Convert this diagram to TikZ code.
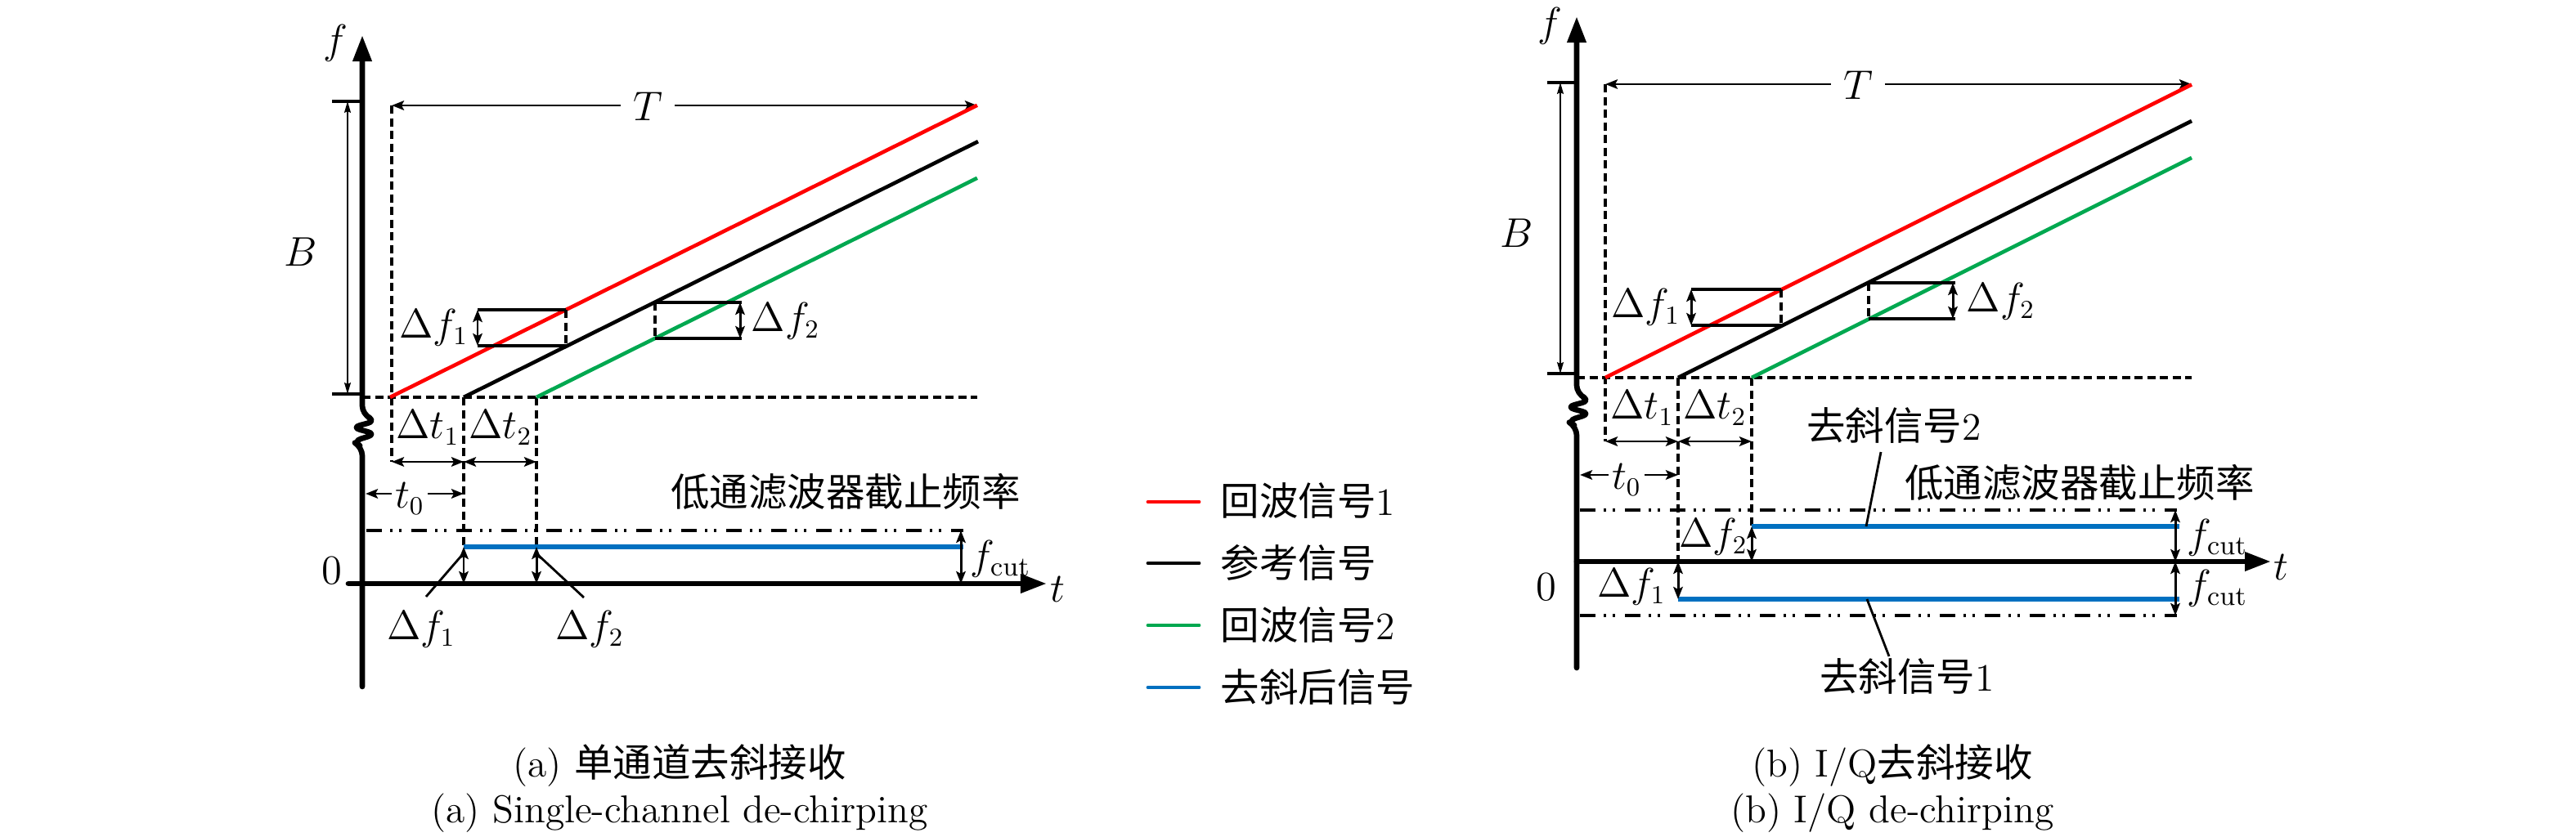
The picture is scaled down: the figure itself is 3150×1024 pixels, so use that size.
\documentclass[tikz,border=0pt]{standalone}
\usepackage{fontspec}
\newfontfamily\cjk{Noto Sans CJK SC}
\usetikzlibrary{arrows.meta}
\definecolor{sigred}{RGB}{255,0,0}
\definecolor{siggreen}{RGB}{0,168,80}
\definecolor{sigblue}{RGB}{0,112,192}
\tikzset{
  axisline/.style={line width=1.9pt, line cap=round, line join=round},
  axisarrow/.style={-{Triangle[length=0.32cm,width=0.22cm]}},
  sig/.style={line width=1.3pt},
  bluesig/.style={line width=1.45pt, sigblue},
  dashedline/.style={line width=0.9pt, dash pattern=on 0.1cm off 0.055cm},
  dashdot/.style={line width=0.95pt, dash pattern=on 0.19cm off 0.1cm on 0.03cm off 0.08cm on 0.03cm off 0.12cm},
  dimarrow/.style={line width=0.85pt, {Stealth[length=0.15cm,width=0.115cm,inset=0.03cm]}-{Stealth[length=0.15cm,width=0.115cm,inset=0.03cm]}},
  thinarrow/.style={line width=0.5pt, {Stealth[length=0.14cm,width=0.08cm,inset=0.02cm]}-{Stealth[length=0.14cm,width=0.08cm,inset=0.02cm]}},
  boxline/.style={line width=0.9pt},
  leader/.style={line width=0.8pt},
  lbl/.style={inner sep=0pt, font=\fontsize{13.5}{16}\selectfont},
  gaplbl/.style={lbl, fill=white, inner ysep=0pt},
  legline/.style={line width=1.4pt, line cap=round},
}
\begin{document}
\begin{tikzpicture}[x=0.01cm,y=-0.01cm]
\useasboundingbox (0,0) rectangle (3150,1024);

%% ================= (a) single channel =================
% axes
\draw[axisline, axisarrow, rounded corners=3pt] (443,840) -- (443,547) -- (431,540) -- (460,531) -- (430,523) -- (460,515) -- (443,507) -- (443,43);
\draw[axisline, axisarrow] (426,714) -- (1280,714);
\node[lbl] (fA) at (410,53) {$f$};
\node[lbl] (tA) at (1293,721) {$t$};
\node[lbl] (zeroA) at (406,698) {$0$};
% bandwidth B
\coordinate (BtopA) at (425,124); \coordinate (BbotA) at (425,482);
\draw[boxline] (406,124) -- (443,124);
\draw[boxline] (406,482) -- (443,482);
\draw[thinarrow] (BtopA) -- (BbotA);
\node[lbl] (BA) at (368,308) {$B$};
% dashed guides
\draw[dashedline] (443,486) -- (1195,486);
\draw[dashedline] (479,129) -- (479,565);
\draw[dashedline] (567,486) -- (567,669);
\draw[dashedline] (656,486) -- (656,669);
% T
\coordinate (TlA) at (479,129); \coordinate (TrA) at (1195,129);
\draw[dimarrow] (TlA) -- (TrA);
\node[gaplbl, inner xsep=0.15cm] (TA) at (792,130) {$T$};
% chirps
\coordinate (r0A) at (477,486); \coordinate (r1A) at (1195,128.8);
\coordinate (k0A) at (567,486); \coordinate (k1A) at (1196,173.1);
\coordinate (g0A) at (656,486); \coordinate (g1A) at (1195,217.8);
\draw[sig, sigred] (r0A) -- (r1A);
\draw[sig, black] (k0A) -- (k1A);
\draw[sig, siggreen] (g0A) -- (g1A);
% delta f1 box
\draw[boxline] (584,379) -- (692,379);
\draw[boxline] (584,423) -- (692,423);
\draw[dashedline] (692,379) -- (692,423);
\draw[dimarrow] (584,379) -- (584,423);
\node[lbl, anchor=east] (df1boxA) at (573,401) {$\Delta f_1$};
% delta f2 box
\draw[boxline] (801,370) -- (907,370);
\draw[boxline] (801,414) -- (907,414);
\draw[dashedline] (801,370) -- (801,414);
\draw[dimarrow] (905,370) -- (905,414);
\node[lbl, anchor=west] (df2boxA) at (918,393) {$\Delta f_2$};
% delta t, t0
\node[lbl] (dt1A) at (523,523) {$\Delta t_1$};
\node[lbl] (dt2A) at (612,523) {$\Delta t_2$};
\draw[dimarrow] (479,565) -- (567,565);
\draw[dimarrow] (567,565) -- (656,565);
\draw[dimarrow] (447,604) -- (567,604);
\node[gaplbl, inner xsep=0.04cm] (t0A) at (501,610) {$t_0$};
% cutoff and dechirped signal
\draw[dashdot] (448,649) -- (1178,649);
\draw[bluesig] (567,669) -- (1178,669);
\draw[dimarrow] (1175,649) -- (1175,714);
\node[lbl, anchor=west] (fcutA) at (1186,684) {$f_{\mathrm{cut}}$};
\draw[dimarrow] (567,669) -- (567,714);
\draw[dimarrow] (656,669) -- (656,714);
\node[lbl] (df1A) at (515,770) {$\Delta f_1$};
\node[lbl] (df2A) at (721,770) {$\Delta f_2$};
\coordinate (l1aA) at (521,730); \coordinate (l1bA) at (565,679);
\coordinate (l2aA) at (714,731); \coordinate (l2bA) at (658,679);
\draw[leader] (l1aA) -- (l1bA);
\draw[leader] (l2aA) -- (l2bA);
\node[lbl] (lpfA) at (1034,601) {\cjk 低通滤波器截止频率};

%% ================= legend =================
\draw[legline, sigred] (1404,614) -- (1466,614);
\draw[legline, black] (1404,689) -- (1466,689);
\draw[legline, siggreen] (1404,765) -- (1466,765);
\draw[legline, sigblue] (1404,841) -- (1466,841);
\node[lbl, anchor=west] (leg1) at (1492,613) {{\cjk 回波信号}1};
\node[lbl, anchor=west] (leg2) at (1492,688) {\cjk 参考信号};
\node[lbl, anchor=west] (leg3) at (1492,764) {{\cjk 回波信号}2};
\node[lbl, anchor=west] (leg4) at (1492,840) {\cjk 去斜后信号};

%% ================= (b) I/Q =================
\draw[axisline, axisarrow, rounded corners=3pt] (1928,817) -- (1928,522) -- (1916,515) -- (1945,506) -- (1915,498) -- (1945,490) -- (1928,482) -- (1928,20);
\draw[axisline, axisarrow] (1928,687) -- (2777,687);
\node[lbl] (fB) at (1895,32) {$f$};
\node[lbl] (tB) at (2789,694) {$t$};
\node[lbl] (zeroB) at (1891,718) {$0$};
% B
\coordinate (BtopB) at (1908,101); \coordinate (BbotB) at (1908,457);
\draw[boxline] (1892,101) -- (1928,101);
\draw[boxline] (1892,457) -- (1928,457);
\draw[thinarrow] (BtopB) -- (BbotB);
\node[lbl] (BB) at (1855,285) {$B$};
% dashed guides
\draw[dashedline] (1928,462) -- (2680,462);
\draw[dashedline] (1963,103) -- (1963,540);
\draw[dashedline] (2052,462) -- (2052,687);
\draw[dashedline] (2142,462) -- (2142,644);
% T
\coordinate (TlB) at (1963,103); \coordinate (TrB) at (2680,103);
\draw[dimarrow] (TlB) -- (TrB);
\node[gaplbl, inner xsep=0.15cm] (TB) at (2272,104) {$T$};
% chirps
\coordinate (r0B) at (1963,462); \coordinate (r1B) at (2680,103.5);
\coordinate (k0B) at (2052,462); \coordinate (k1B) at (2680,148);
\coordinate (g0B) at (2142,462); \coordinate (g1B) at (2680,193);
\draw[sig, sigred] (r0B) -- (r1B);
\draw[sig, black] (k0B) -- (k1B);
\draw[sig, siggreen] (g0B) -- (g1B);
% delta f1 box
\draw[boxline] (2068,354) -- (2178,354);
\draw[boxline] (2068,398) -- (2178,398);
\draw[dashedline] (2178,354) -- (2178,398);
\draw[dimarrow] (2068,354) -- (2068,398);
\node[lbl, anchor=east] (df1boxB) at (2055,376) {$\Delta f_1$};
% delta f2 box
\draw[boxline] (2285,346) -- (2391,346);
\draw[boxline] (2285,390) -- (2391,390);
\draw[dashedline] (2285,346) -- (2285,390);
\draw[dimarrow] (2388,346) -- (2388,390);
\node[lbl, anchor=west] (df2boxB) at (2404,369) {$\Delta f_2$};
% delta t, t0
\node[lbl] (dt1B) at (2008,499) {$\Delta t_1$};
\node[lbl] (dt2B) at (2097,499) {$\Delta t_2$};
\draw[dimarrow] (1963,540) -- (2052,540);
\draw[dimarrow] (2052,540) -- (2142,540);
\draw[dimarrow] (1932,581) -- (2052,581);
\node[gaplbl, inner xsep=0.04cm] (t0B) at (1989,587) {$t_0$};
% cutoff lines and dechirped signals
\draw[dashdot] (1932,624) -- (2662,624);
\draw[dashdot] (1932,753) -- (2662,753);
\draw[bluesig] (2142,644) -- (2665,644);
\draw[bluesig] (2052,733) -- (2665,733);
\draw[dimarrow] (2660,624) -- (2660,687);
\draw[dimarrow] (2660,687) -- (2660,753);
\node[lbl, anchor=west] (fcut1B) at (2674,658) {$f_{\mathrm{cut}}$};
\node[lbl, anchor=west] (fcut2B) at (2674,720) {$f_{\mathrm{cut}}$};
\draw[dimarrow] (2142,644) -- (2142,687);
\draw[dimarrow] (2052,687) -- (2052,733);
\node[lbl] (df2B) at (2095,657) {$\Delta f_2$};
\node[lbl] (df1B) at (1995,718) {$\Delta f_1$};
\node[lbl] (ds2B) at (2316,521) {{\cjk 去斜信号}2};
\node[lbl] (ds1B) at (2332,828) {{\cjk 去斜信号}1};
\coordinate (l2aB) at (2300,553); \coordinate (l2bB) at (2282,644);
\coordinate (l1aB) at (2283,733); \coordinate (l1bB) at (2310,803);
\draw[leader] (l2aB) -- (l2bB);
\draw[leader] (l1aB) -- (l1bB);
\node[lbl] (lpfB) at (2543,590) {\cjk 低通滤波器截止频率};

%% ================= captions =================
\node[lbl, anchor=base] (capA1) at (831,950) {(a) {\cjk 单通道去斜接收}};
\node[lbl, anchor=base] (capA2) at (831,1006) {(a) Single-channel de-chirping};
\node[lbl, anchor=base] (capB1) at (2314,950) {(b) I/Q{\cjk 去斜接收}};
\node[lbl, anchor=base] (capB2) at (2314,1006) {(b) I/Q de-chirping};
\end{tikzpicture}
\end{document}
